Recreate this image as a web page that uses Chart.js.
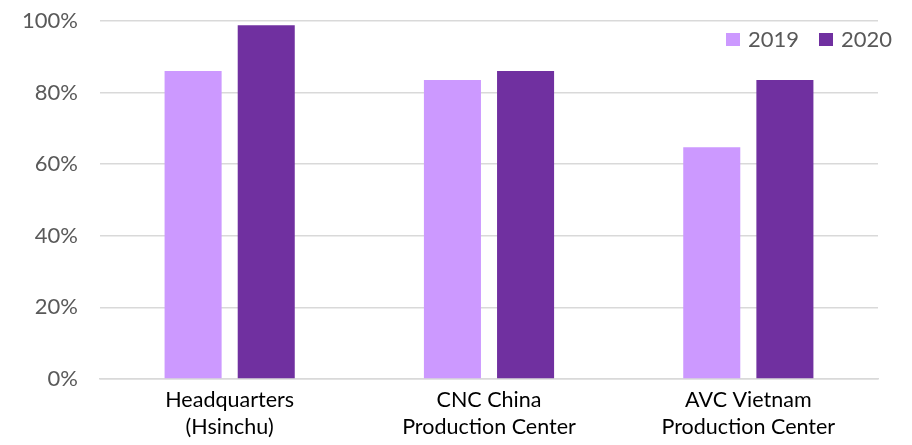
<!DOCTYPE html>
<html>
<head>
<meta charset="utf-8">
<script src="https://cdn.jsdelivr.net/npm/chart.js@4/dist/chart.umd.min.js"></script>
<style>
    html, body { margin: 0; padding: 0; background: #fff; }
    #wrap { width: 912px; height: 445px; }
</style>
</head>
<body>
<div id="wrap"><canvas id="chart" width="912" height="445"></canvas></div>
<script>
// Chart data
const categories = [['Headquarters', '(Hsinchu)'], ['CNC China', 'Production Center'], ['AVC Vietnam', 'Production Center']];
const seriesNames = ['2019', '2020'];
const values2019 = [86, 83.5, 64.7];
const values2020 = [98.8, 86, 83.5];
const yTicks = [0, 20, 40, 60, 80, 100];

const colors = ['#CC99FF', '#7030A0'];

// Legend drawn inside the plot area, top right
const cornerLegend = {
    id: 'cornerLegend',
    afterDraw(chart) {
        const ctx = chart.ctx;
        const area = chart.chartArea;
        ctx.save();
        ctx.font = '22px Lato';
        ctx.textBaseline = 'middle';
        ctx.textAlign = 'left';
        let x = area.right - 152;
        const y = area.top + 19;
        chart.data.datasets.forEach(ds => {
            ctx.fillStyle = ds.backgroundColor;
            ctx.fillRect(x, y - 7, 14, 13);
            ctx.fillStyle = '#595959';
            ctx.fillText(ds.label, x + 22, y);
            x += 93;
        });
        ctx.restore();
    }
};

new Chart(document.getElementById('chart'), {
    type: 'bar',
    data: {
        labels: categories,
        datasets: [
            { label: seriesNames[0], data: values2019, backgroundColor: colors[0] },
            { label: seriesNames[1], data: values2020, backgroundColor: colors[1] }
        ]
    },
    options: {
        responsive: false,
        animation: false,
        devicePixelRatio: 1,
        layout: { padding: { top: 21, right: 34, left: 0, bottom: 0 } },
        datasets: {
            bar: { categoryPercentage: 0.564, barPercentage: 0.78 }
        },
        plugins: {
            legend: { display: false },
            tooltip: { enabled: false }
        },
        scales: {
            x: {
                grid: { display: false, drawTicks: false },
                border: { color: '#D9D9D9', width: 1.5 },
                ticks: {
                    color: '#000',
                    font: { family: 'Lato', size: 21.5, lineHeight: 1.25 },
                    padding: 8,
                    maxRotation: 0
                },
                afterFit(scale) { scale.height = 66; }
            },
            y: {
                min: 0,
                max: 100,
                afterBuildTicks(scale) { scale.ticks = yTicks.map(v => ({ value: v })); },
                grid: { color: '#D9D9D9', lineWidth: 1.5, drawTicks: false },
                border: { display: false },
                ticks: {
                    color: '#595959',
                    font: { family: 'Lato', size: 22 },
                    padding: 22,
                    callback: v => v + '%'
                },
                afterFit(scale) {
                    scale.width = 100;
                    scale.paddingTop = 0;
                    scale.paddingBottom = 0;
                }
            }
        }
    },
    plugins: [cornerLegend]
});
</script>
</body>
</html>
